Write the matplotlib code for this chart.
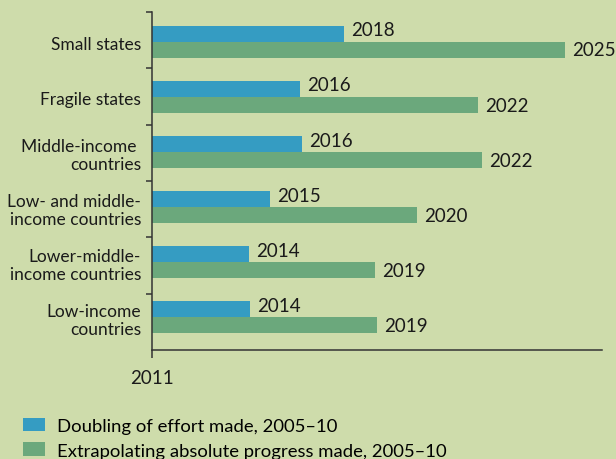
import numpy as np
import matplotlib
matplotlib.use("Agg")
import matplotlib.pyplot as plt
from matplotlib.patches import Patch

plt.rcParams["font.family"] = ["Lato", "DejaVu Sans"]

# DATA (year in which the target is reached)
categories = [
    "Small states",
    "Fragile states",
    "Middle-income \ncountries",
    "Low- and middle-\nincome countries",
    "Lower-middle-\nincome countries",
    "Low-income\ncountries",
]
doubling_effort = [2017.60, 2016.09, 2016.15, 2015.06, 2014.33, 2014.37]
absolute_progress = [2025.19, 2022.20, 2022.34, 2020.11, 2018.66, 2018.73]
start_year = 2011
end_year = 2026.46

series_labels = [
    "Doubling of effort made, 2005\u201310",
    "Extrapolating absolute progress made, 2005\u201310",
]

bg = "#cedcab"
blue = "#359cc2"
green = "#6ba87c"
ink = "#1a1a1a"

fig = plt.figure(figsize=(6.16, 4.6), dpi=100, facecolor=bg)
ax = fig.add_axes([152 / 616, 1 - 351 / 460, 450 / 616, 338 / 460])
ax.set_facecolor(bg)

y = np.arange(len(categories))
h = 0.29
blue_bars = ax.barh(y - h / 2, np.array(doubling_effort) - start_year, left=start_year,
                    height=h, color=blue)
green_bars = ax.barh(y + h / 2, np.array(absolute_progress) - start_year, left=start_year,
                     height=h, color=green)

for bar, v in zip(blue_bars, doubling_effort):
    ax.annotate(f"{v:.0f}", (bar.get_x() + bar.get_width(), bar.get_y() + bar.get_height() / 2),
                xytext=(5, 3), textcoords="offset points", va="center", ha="left",
                fontsize=13.5, color=ink)
for bar, v in zip(green_bars, absolute_progress):
    ax.annotate(f"{v:.0f}", (bar.get_x() + bar.get_width(), bar.get_y() + bar.get_height() / 2),
                xytext=(5, 0), textcoords="offset points", va="center", ha="left",
                fontsize=13.5, color=ink)

ax.set_xlim(start_year, end_year)
ylim_top = -0.545
ylim_bottom = ylim_top + 338 / 55.07
ax.set_ylim(ylim_bottom, ylim_top)

ax.set_yticks(y)
ax.set_yticklabels(categories, fontsize=12.5, color=ink)
ax.tick_params(axis="y", which="major", length=0, pad=8)
ax.set_yticks(np.linspace(ylim_top, ylim_bottom, len(categories) + 1)[:-1], minor=True)
ax.tick_params(axis="y", which="minor", length=4, width=1.1, color="#333333", direction="out")

ax.set_xticks([start_year])
ax.set_xticklabels([str(start_year)], fontsize=13.5, color=ink)
ax.tick_params(axis="x", length=6, width=1.1, color="#333333", pad=8)

for side in ["top", "right"]:
    ax.spines[side].set_visible(False)
for side in ["left", "bottom"]:
    ax.spines[side].set_color("#333333")
    ax.spines[side].set_linewidth(1.1)

# legend, bottom left
handles = [Patch(facecolor=blue, edgecolor="none"), Patch(facecolor=green, edgecolor="none")]
fig.legend(handles, series_labels, loc="lower left", bbox_to_anchor=(0.032, -0.007),
           frameon=False, fontsize=13.3, handlelength=1.18, handleheight=0.75,
           handletextpad=0.65, labelspacing=0.45, borderpad=0.2, borderaxespad=0.0)

plt.savefig("out.png", dpi=100, facecolor=bg)
